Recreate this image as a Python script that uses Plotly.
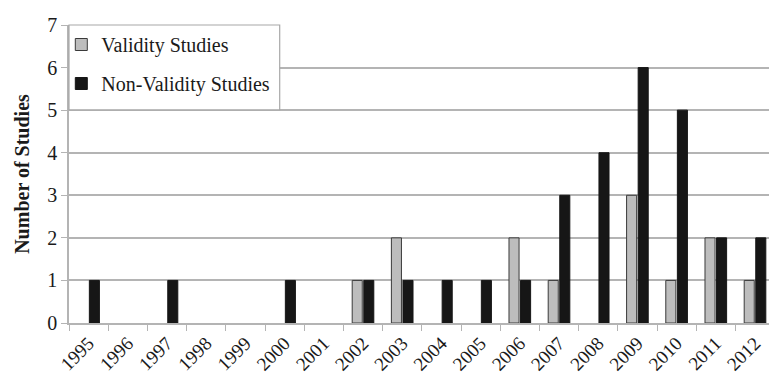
import plotly.graph_objects as go

years = [str(y) for y in range(1995, 2013)]
validity = [0, 0, 0, 0, 0, 0, 0, 1, 2, 0, 0, 2, 1, 0, 3, 1, 2, 1]
non_validity = [1, 0, 1, 0, 0, 1, 0, 1, 1, 1, 1, 1, 3, 4, 6, 5, 2, 2]

serif = "'Liberation Serif', 'Times New Roman', Times, serif"
ink = "#1a1a1a"
grid = "#b4b4b4"


def drawn(values):
    # empty years get no bar at all, so no outline stub sits on the axis
    return [v if v > 0 else None for v in values]


fig = go.Figure()
fig.add_trace(go.Bar(
    x=years, y=drawn(validity), name="Validity Studies", legendgroup="v",
    marker=dict(color="#bdbdbd", line=dict(color="#3a3a3a", width=1)),
))
fig.add_trace(go.Bar(
    x=years, y=drawn(non_validity), name="Non-Validity Studies", legendgroup="n",
    marker=dict(color="#161616", line=dict(color="#161616", width=1)),
))

# framed white panel behind the legend entries
fig.add_shape(
    type="rect", xref="paper", yref="paper",
    x0=0, x1=0.301, y0=0.715, y1=1,
    fillcolor="white", line=dict(color="#a8a8a8", width=1.2), layer="above",
)

fig.update_layout(
    width=769, height=381,
    margin=dict(l=69, r=0, t=25, b=58),
    paper_bgcolor="white", plot_bgcolor="white",
    barmode="group", bargap=0.41, bargroupgap=0.13,
    font=dict(family=serif, color=ink),
    legend=dict(
        x=-0.011, y=1, xanchor="left", yanchor="top",
        bgcolor="rgba(0,0,0,0)", borderwidth=0,
        font=dict(family=serif, size=20, color=ink),
        tracegroupgap=10,
    ),
    xaxis=dict(
        type="category", range=[-0.5, 17.357],
        tickson="boundaries", ticks="outside", ticklen=6, tickcolor=grid,
        tickangle=-45, tickfont=dict(family=serif, size=19, color=ink),
        showline=True, linecolor=grid, linewidth=1.5, showgrid=False,
    ),
    yaxis=dict(
        range=[0, 7], dtick=1, ticks="outside", ticklen=6, tickcolor=grid,
        tickfont=dict(family=serif, size=20, color=ink),
        showline=True, linecolor=grid, linewidth=1.5,
        showgrid=True, gridcolor=grid, gridwidth=1.5, zeroline=False,
        title=dict(text="<b>Number of Studies</b>", standoff=12,
                   font=dict(family=serif, size=20, color=ink)),
    ),
)

fig.write_html("out.html")
